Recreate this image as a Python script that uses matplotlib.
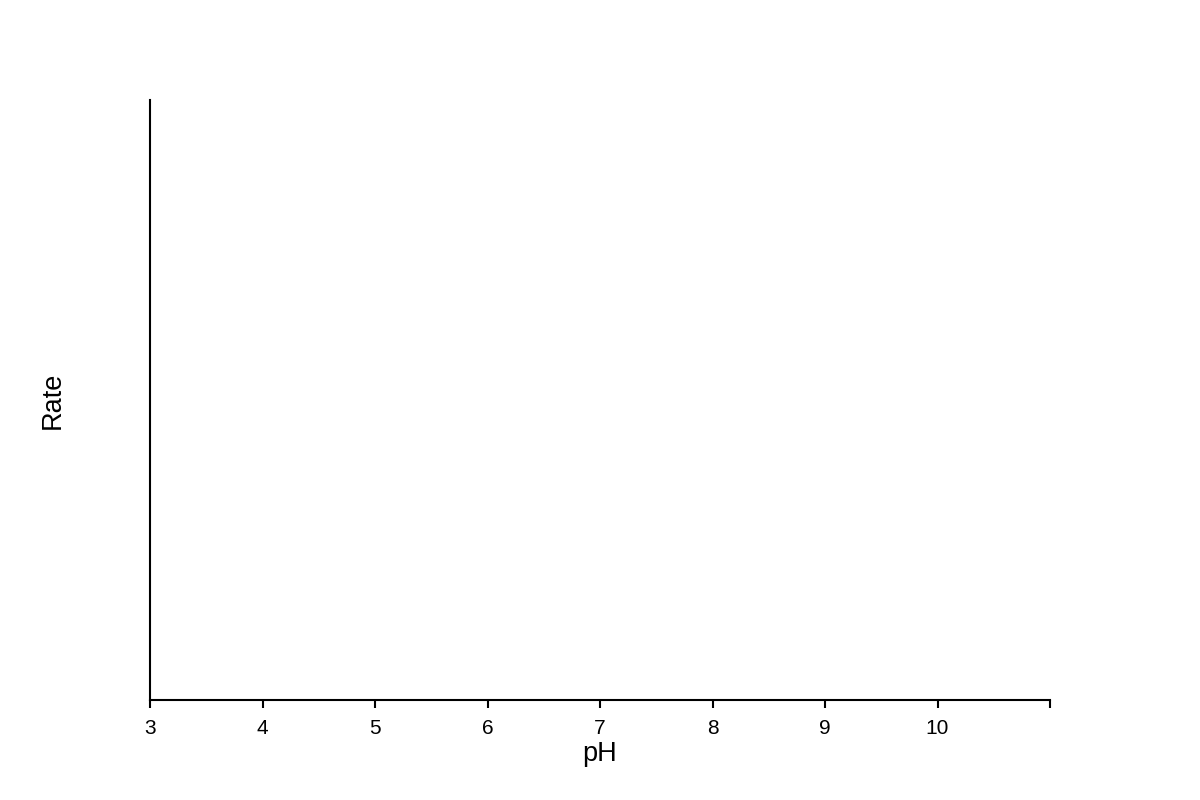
import matplotlib.pyplot as plt

# Axis setup (the chart has no data drawn, only the empty frame)
x_ticks = [3, 4, 5, 6, 7, 8, 9, 10, 11]
x_tick_labels = ["3", "4", "5", "6", "7", "8", "9", "10", ""]
x_label = "pH"
y_label = "Rate"

plt.rcParams['font.family'] = ['Liberation Sans', 'DejaVu Sans']

fig = plt.figure(figsize=(12, 8), dpi=100)
ax = fig.add_axes([0.125, 0.125, 0.75, 0.75])

ax.set_xlim(x_ticks[0], x_ticks[-1])
ax.set_ylim(0, 1)
ax.set_xticks(x_ticks)
ax.set_xticklabels(x_tick_labels, fontsize=15)
ax.set_yticks([])

ax.spines['top'].set_visible(False)
ax.spines['right'].set_visible(False)
ax.spines['left'].set_linewidth(1.5)
ax.spines['bottom'].set_linewidth(1.5)
ax.tick_params(axis='x', direction='out', length=6, width=1.5, pad=7.5)

ax.set_xlabel(x_label, fontsize=19.5, labelpad=2)
ax.set_ylabel(y_label, fontsize=19.5, labelpad=61)

fig.savefig("out.png", dpi=100)
